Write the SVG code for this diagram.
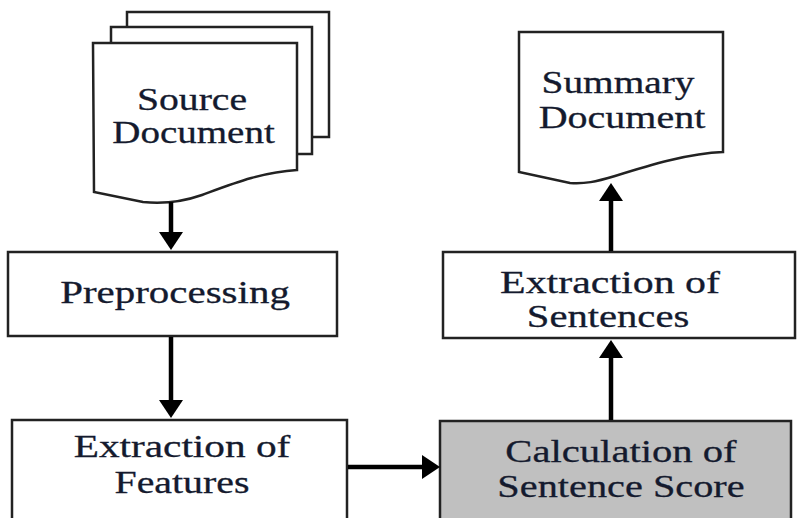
<svg xmlns="http://www.w3.org/2000/svg" width="797" height="518" viewBox="0 0 797 518">
<defs>
<style>
.box{fill:#fff;stroke:#222;stroke-width:2.5}
.gray{fill:#c0c0c0}
.t{font-family:"Liberation Serif","Times New Roman",serif;font-size:32px;fill:#141a2e;stroke:#141a2e;stroke-width:0.3;text-anchor:middle}
.c{stroke:#000;stroke-width:4.5;fill:none}
</style>
<marker id="ah" viewBox="0 0 18 24" refX="6" refY="12" markerWidth="18" markerHeight="24" markerUnits="userSpaceOnUse" orient="auto">
<path d="M0,0 L18,12 L0,24 Z" fill="#000"/>
</marker>
</defs>
<rect width="797" height="518" fill="#fff"/>
<g id="source">
<rect class="box" x="127" y="12" width="202" height="125"/>
<rect class="box" x="111" y="27" width="201" height="127"/>
<path class="box" d="M93,43 H297 V170 C262,172 232,184 202,195 C182,202 162,204 143,202 L94,192 Z"/>
<text class="t" transform="translate(192,110) scale(1.24,1)">Source</text>
<text class="t" transform="translate(193.5,143) scale(1.22,1)">Document</text>
</g>
<g id="summary">
<path class="box" d="M519,32 H723 V152 C690,153 650,165 615,176 C595,182 585,184 570,183 L519,172 Z"/>
<text class="t" transform="translate(618,93) scale(1.23,1)">Summary</text>
<text class="t" transform="translate(622,128) scale(1.25,1)">Document</text>
</g>
<g id="preprocessing">
<rect class="box" x="8" y="252" width="329" height="84"/>
<text class="t" transform="translate(175,303) scale(1.28,1)">Preprocessing</text>
</g>
<g id="features">
<rect class="box" x="12" y="420" width="335" height="110"/>
<text class="t" transform="translate(182,457) scale(1.29,1)">Extraction of</text>
<text class="t" transform="translate(182,493) scale(1.245,1)">Features</text>
</g>
<g id="calculation">
<rect class="box gray" x="440" y="421" width="351" height="110"/>
<text class="t" transform="translate(621,462) scale(1.27,1)">Calculation of</text>
<text class="t" transform="translate(621,497) scale(1.26,1)">Sentence Score</text>
</g>
<g id="sentences">
<rect class="box" x="443" y="252" width="352" height="86"/>
<text class="t" transform="translate(610,293) scale(1.31,1)">Extraction of</text>
<text class="t" transform="translate(608,327) scale(1.27,1)">Sentences</text>
</g>
<g id="connectors">
<line class="c" x1="171" y1="202" x2="171" y2="238" marker-end="url(#ah)"/>
<line class="c" x1="171" y1="337" x2="171" y2="406" marker-end="url(#ah)"/>
<line class="c" x1="348" y1="467" x2="428" y2="467" marker-end="url(#ah)"/>
<line class="c" x1="611" y1="420" x2="611" y2="352" marker-end="url(#ah)"/>
<line class="c" x1="611" y1="251" x2="611" y2="195" marker-end="url(#ah)"/>
</g>
</svg>
